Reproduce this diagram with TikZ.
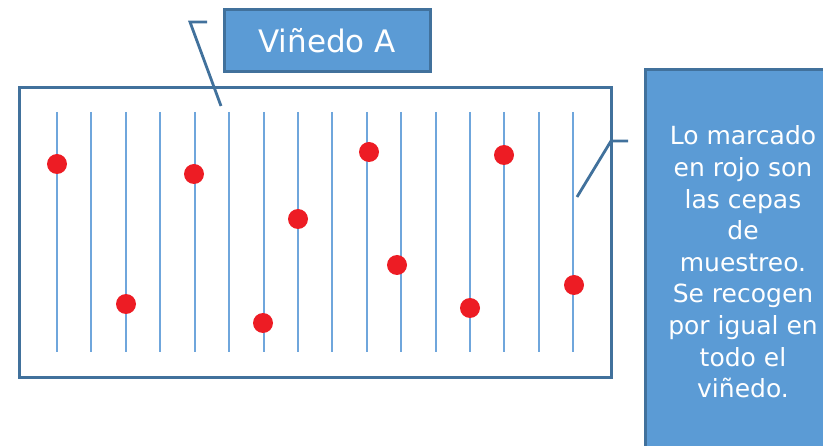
\documentclass[tikz,border=0pt]{standalone}
\usepackage{fontspec}
\setmainfont{DejaVu Sans}
\definecolor{boxblue}{HTML}{5B9BD5}
\definecolor{edgeblue}{HTML}{41719C}
\definecolor{rowblue}{HTML}{6FA6DC}
\definecolor{vinered}{HTML}{ED1C24}
\tikzset{
  labelbox/.style={draw=edgeblue, line width=3pt, fill=boxblue, inner sep=0pt},
  callout/.style={draw=edgeblue, line width=2.8pt},
  vinerow/.style={draw=rowblue, line width=2.2pt},
  sample/.style={circle, fill=vinered, minimum size=20pt, inner sep=0pt},
}
\begin{document}
\begin{tikzpicture}[x=1pt, y=-1pt]
  \useasboundingbox (0,0) rectangle (823,446);
  \clip (0,0) rectangle (823,446);

  % Field with rows
  \node[draw=edgeblue, line width=3.2pt, minimum width=592pt, minimum height=290pt,
        anchor=north west, inner sep=0pt] (field) at (18,86) {};
  \foreach \x in {57,91,126,160,195,229,264,298,332,367,401,436,470,504,539,573}
    \draw[vinerow] (\x,112) -- (\x,352);

  % Sampled vines
  \foreach \x/\y [count=\i] in {57/164, 126/304, 194/174, 263/323, 298/219,
                                369/152, 397/265, 470/308, 504/155, 574/285}
    \node[sample] (s\i) at (\x,\y) {};

  % Title callout
  \node[labelbox, minimum width=206pt, minimum height=62pt, text=white,
        font=\fontsize{31}{37}\selectfont] (title) at (327,41) {Viñedo A};
  \coordinate (titlebend) at (190,22);
  \coordinate (titletip) at (221,106);
  \draw[callout] (207,22) -- (titlebend) -- (titletip);

  % Note callout
  \node[labelbox, anchor=north west, minimum width=260pt, minimum height=420pt] (notebox) at (644,68) {};
  \node[text=white, align=center, font=\fontsize{25}{31.6}\selectfont] (notetext) at (743,262)
    {Lo marcado\\en rojo son\\las cepas\\de\\muestreo.\\Se recogen\\por igual en\\todo el\\viñedo.};
  \coordinate (notebend) at (611,141);
  \coordinate (notetip) at (577,197);
  \draw[callout] (628,141) -- (notebend) -- (notetip);
\end{tikzpicture}
\end{document}
